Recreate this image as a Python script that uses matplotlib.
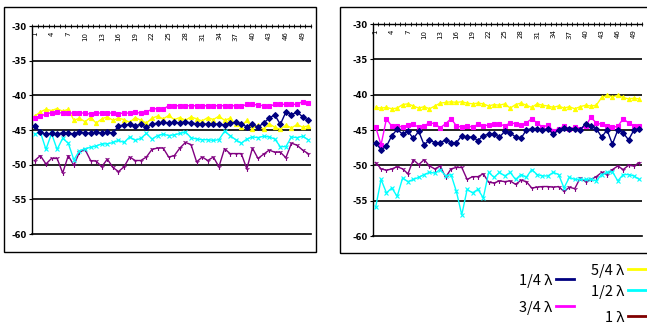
import matplotlib
matplotlib.use("Agg")
import matplotlib.pyplot as plt
from matplotlib.patches import Rectangle
from matplotlib.lines import Line2D
import numpy as np

categories = list(range(1, 51))
tick_labels = [str(c) for c in categories[::3]]

left_q = [-44.4, -45.3, -45.6, -45.5, -45.6, -45.4, -45.5, -45.6, -45.3, -45.4,
          -45.5, -45.3, -45.5, -45.3, -45.5, -44.4, -44.3, -44.2, -44.4, -44.2,
          -44.6, -44.2, -44.0, -43.9, -44.0, -43.9, -44.0, -43.8, -44.0, -44.1,
          -44.2, -44.1, -44.2, -44.1, -44.3, -44.0, -43.9, -44.2, -44.5, -44.2,
          -44.6, -44.0, -43.3, -42.8, -44.2, -42.4, -42.8, -42.4, -43.1, -43.6]
left_3q = [-43.3, -43.0, -42.7, -42.5, -42.4, -42.6, -42.5, -42.6, -42.5, -42.6,
           -42.7, -42.5, -42.6, -42.5, -42.6, -42.7, -42.5, -42.6, -42.4, -42.6,
           -42.4, -42.0, -41.9, -42.0, -41.5, -41.5, -41.5, -41.5, -41.5, -41.5,
           -41.5, -41.5, -41.5, -41.5, -41.5, -41.5, -41.5, -41.6, -41.3, -41.3,
           -41.4, -41.5, -41.6, -41.3, -41.3, -41.3, -41.3, -41.3, -40.9, -41.1]
left_5q = [-43.0, -42.4, -42.0, -42.2, -41.9, -42.3, -42.0, -43.6, -43.3, -43.8,
           -43.2, -44.0, -43.4, -43.1, -43.6, -43.3, -43.5, -43.9, -43.2, -43.6,
           -44.0, -43.3, -43.0, -43.4, -42.9, -43.5, -43.2, -43.6, -43.1, -43.4,
           -43.7, -43.2, -43.5, -43.0, -43.6, -43.3, -44.2, -44.5, -43.6, -44.8,
           -44.3, -44.9, -44.1, -44.6, -44.9, -44.3, -44.7, -44.2, -44.6, -44.4]
left_h = [-45.6, -45.3, -47.8, -45.5, -47.8, -46.2, -46.9, -49.3, -48.0, -47.7,
          -47.5, -47.3, -47.0, -47.0, -46.8, -46.5, -46.8, -46.0, -46.5, -46.2,
          -45.5, -46.3, -45.8, -45.6, -45.8, -45.7, -45.5, -45.3, -46.1, -46.3,
          -46.4, -46.4, -46.5, -46.4, -45.2, -45.8, -46.4, -46.9, -46.3, -46.0,
          -46.1, -45.9, -46.0, -46.3, -47.4, -47.4, -46.0, -46.1, -45.9, -46.4]
left_1 = [-49.4, -48.7, -49.9, -49.1, -49.1, -51.2, -48.7, -50.1, -48.2, -47.8,
          -49.4, -49.5, -50.3, -49.2, -50.4, -51.0, -50.3, -48.9, -49.4, -49.4,
          -48.9, -47.8, -47.6, -47.6, -48.9, -48.7, -47.6, -46.8, -47.1, -49.6,
          -48.9, -49.4, -48.9, -50.3, -47.7, -48.4, -48.4, -48.4, -50.6, -47.6,
          -49.1, -48.5, -47.9, -48.2, -48.2, -49.0, -46.9, -47.2, -47.9, -48.4]

right_q = [-46.8, -47.8, -47.3, -45.8, -44.9, -45.6, -45.2, -46.2, -45.2, -47.1,
           -46.4, -46.8, -46.8, -46.4, -46.8, -46.8, -45.8, -46.0, -46.0, -46.5,
           -45.8, -45.6, -45.6, -46.0, -45.2, -45.4, -46.0, -46.2, -45.0, -44.8,
           -44.8, -45.0, -44.8, -45.6, -45.0, -44.7, -44.8, -44.8, -45.0, -44.1,
           -44.5, -44.8, -46.0, -45.0, -47.0, -45.0, -45.4, -46.4, -45.0, -44.8]
right_3q = [-44.6, -47.1, -43.4, -44.5, -44.4, -44.6, -44.3, -44.2, -44.6, -44.4,
            -44.0, -44.1, -44.7, -44.1, -43.4, -44.4, -44.6, -44.4, -44.6, -44.2,
            -44.4, -44.3, -44.1, -44.2, -44.4, -44.0, -44.1, -44.3, -44.0, -43.4,
            -44.0, -44.6, -44.3, -45.1, -44.8, -44.5, -44.9, -44.6, -44.8, -44.5,
            -43.2, -44.0, -44.2, -44.4, -44.6, -44.5, -43.4, -44.0, -44.4, -44.4]
right_5q = [-41.8, -41.9, -41.8, -42.0, -41.9, -41.4, -41.3, -41.6, -41.9, -41.7,
            -42.0, -41.6, -41.2, -41.1, -41.0, -41.1, -41.0, -41.2, -41.3, -41.2,
            -41.3, -41.6, -41.4, -41.5, -41.3, -41.9, -41.4, -41.2, -41.5, -41.8,
            -41.3, -41.5, -41.6, -41.8, -41.6, -41.9, -41.7, -42.0, -41.7, -41.5,
            -41.6, -41.5, -40.4, -40.1, -40.3, -40.1, -40.4, -40.6, -40.5, -40.6]
right_h = [-55.9, -52.0, -53.9, -53.2, -54.4, -51.8, -52.3, -52.0, -51.7, -51.3,
           -51.0, -51.1, -50.6, -51.5, -51.3, -53.7, -57.0, -53.4, -53.9, -53.4,
           -54.6, -51.0, -51.7, -51.0, -51.5, -51.0, -52.0, -51.3, -51.7, -50.6,
           -51.3, -51.5, -51.5, -51.0, -51.3, -53.2, -51.7, -52.0, -52.0, -52.0,
           -52.0, -52.2, -51.3, -51.0, -50.9, -52.2, -51.3, -51.3, -51.5, -52.0]
right_1 = [-49.6, -50.5, -50.7, -50.5, -50.2, -50.5, -51.2, -49.2, -49.9, -49.2,
           -50.1, -50.5, -50.1, -51.7, -50.5, -50.3, -50.3, -52.0, -51.6, -51.6,
           -51.2, -52.4, -52.5, -52.2, -52.3, -52.2, -52.7, -52.1, -52.3, -53.2,
           -53.1, -53.0, -53.0, -53.1, -53.0, -53.7, -53.1, -53.3, -51.8, -52.3,
           -52.0, -51.6, -51.0, -51.3, -50.6, -50.1, -50.6, -50.0, -50.1, -49.6]

series_names = ["1/4 λ", "3/4 λ", "5/4 λ", "1/2 λ", "1 λ"]
series_colors = ["#000080", "#FF00FF", "#FFFF00", "#00FFFF", "#800080"]
legend_colors = ["#000080", "#FF00FF", "#FFFF00", "#00FFFF", "#800000"]
markers = ["D", "s", "^", "x", "1"]
yticks = [-30, -35, -40, -45, -50, -55, -60]

W, H = 647, 326
fig = plt.figure(figsize=(W / 100, H / 100), dpi=100)
fig.patch.set_facecolor("white")

def px_rect(x0, y0, x1, y1):
    return [x0 / W, 1 - y1 / H, (x1 - x0) / W, (y1 - y0) / H]

# chart frames
for (x0, y0, x1, y1) in [(4, 7, 316, 252), (340, 7, 660, 253)]:
    r = Rectangle((x0 / W, 1 - y1 / H), (x1 - x0) / W, (y1 - y0) / H,
                  transform=fig.transFigure, fill=False, edgecolor="black",
                  linewidth=1.0)
    fig.add_artist(r)

panels = [
    (px_rect(32, 26, 311, 234), [left_q, left_3q, left_5q, left_h, left_1]),
    (px_rect(373, 24, 642, 236), [right_q, right_3q, right_5q, right_h, right_1]),
]

x = np.arange(len(categories))
for rect, data in panels:
    ax = fig.add_axes(rect)
    ax.set_facecolor("white")
    order = [4, 3, 2, 1, 0]
    for i in order:
        ms = 3.0 if markers[i] in ("D", "s", "^") else 3.5
        ax.plot(x, data[i], color=series_colors[i], marker=markers[i],
                markersize=ms, linewidth=1.0, markeredgewidth=0.8,
                zorder=3 + (4 - i) * 0.1)
    ax.set_xlim(-0.5, len(categories) - 0.5)
    ax.set_ylim(-60, -30)
    ax.set_yticks(yticks)
    ax.set_yticklabels([str(v) for v in yticks], fontsize=6, fontweight="bold")
    for v in yticks[1:-1]:
        ax.axhline(v, color="black", linewidth=1.2, zorder=2)
    ax.spines["right"].set_visible(False)
    ax.spines["bottom"].set_linewidth(1.2)
    ax.spines["top"].set_linewidth(1.0)
    ax.spines["left"].set_linewidth(1.0)
    ax.tick_params(axis="y", length=2, width=0.8, pad=2)
    ax.xaxis.set_ticks_position("top")
    ax.set_xticks(x[::3])
    ax.set_xticklabels(tick_labels, fontsize=5)
    ax.set_xticks(np.arange(-0.5, len(categories), 1.0), minor=True)
    ax.tick_params(axis="x", which="major", length=0, labeltop=True,
                   labelbottom=False, rotation=90, pad=-4)
    ax.tick_params(axis="x", which="minor", direction="inout", length=3,
                   width=0.6, top=True, bottom=False)
    for lbl in ax.get_xticklabels():
        lbl.set_verticalalignment("top")

# legend (manually laid out like the reference)
legend_items = [
    (0, 552, 281), (1, 552, 308), (2, 624, 271), (3, 624, 292), (4, 624, 318),
]
for idx, tx, ty in legend_items:
    fig.text(tx / W, 1 - ty / H, series_names[idx], ha="right", va="center",
             fontsize=10.5, family=["Noto Sans CJK JP", "DejaVu Sans"])
    fig.add_artist(Line2D([(tx + 4) / W, (tx + 22) / W],
                          [1 - (ty - 2) / H, 1 - (ty - 2) / H],
                          transform=fig.transFigure, color=legend_colors[idx],
                          linewidth=2))

fig.savefig("out.png", dpi=100, facecolor="white")
